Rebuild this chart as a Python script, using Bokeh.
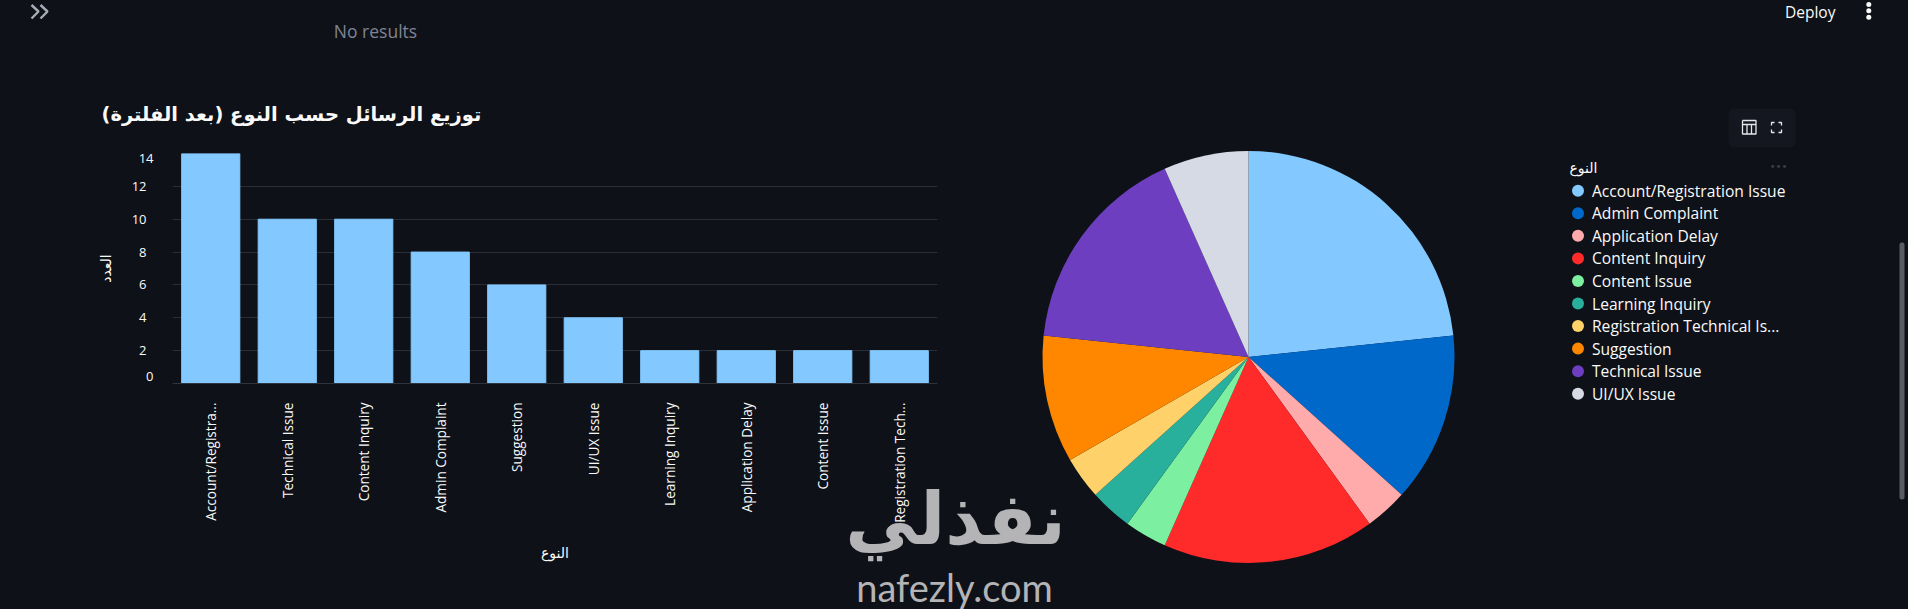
from math import pi
from bokeh.embed import file_html
from bokeh.resources import INLINE
from bokeh.models import (BoxAnnotation, ColumnDataSource, FactorRange, FixedTicker, Label, Range1d)
from bokeh.plotting import figure
from bokeh.core.properties import value

BG = "#0E1117"
GRID = "#2A2E37"
INK = "#FAFAFA"
BAR_BLUE = "#83C9FF"

bar_labels = ["Account/Registra...", "Technical Issue", "Content Inquiry", "Admin Complaint", "Suggestion",
              "UI/UX Issue", "Learning Inquiry", "Application Delay", "Content Issue", "Registration Tech..."]
bar_values = [14, 10, 10, 8, 6, 4, 2, 2, 2, 2]
y_ticks = [0, 2, 4, 6, 8, 10, 12, 14]

pie_labels = ["Account/Registration Issue", "Admin Complaint", "Application Delay", "Content Inquiry", "Content Issue",
              "Learning Inquiry", "Registration Technical Is...", "Suggestion", "Technical Issue", "UI/UX Issue"]
pie_values = [14, 8, 2, 10, 2, 2, 2, 6, 10, 4]
pie_colors = ["#83C9FF", "#0068C9", "#FFABAB", "#FF2B2B", "#7DEFA1", "#29B09D", "#FFD16A", "#FF8700", "#6D3FC0", "#D5DAE5"]

title_text = "توزيع الرسائل حسب النوع (بعد الفلترة)"
x_title = "النوع"
y_title = "العدد"

# ---------- page figure: pie, legend and the page texts; one data unit is one pixel ----------
q = figure(width=1908, height=609, x_range=Range1d(0, 1908), y_range=Range1d(609, 0),
           output_backend="svg", toolbar_location=None, min_border=0,
           background_fill_color=BG, border_fill_color=BG, outline_line_color=None)
q.axis.visible = False
q.grid.visible = False
q.styles = {"position": "absolute", "left": "0px", "top": "0px"}


def page_label(x, y, text, size, color=INK, font="Open Sans", style="normal", align="left"):
    q.add_layout(Label(x=x, y=y, text=text, text_color=color, text_font=font, text_font_style=style,
                       text_font_size=f"{size}px", text_align=align, text_baseline="middle"))


total = sum(pie_values)
starts, ends, acc = [], [], 0
for v in pie_values:
    starts.append(pi / 2 - acc / total * 2 * pi)
    acc += v
    ends.append(pi / 2 - acc / total * 2 * pi)
pie_src = ColumnDataSource(dict(start=starts, end=ends, color=pie_colors, label=pie_labels))
q.wedge(x=1248, y=356.5, radius=206, start_angle="start", end_angle="end", direction="clock",
        fill_color="color", line_color=None, source=pie_src)

rows = list(range(len(pie_labels)))
leg_src = ColumnDataSource(dict(x=[1577.5] * len(rows), tx=[1591.5] * len(rows),
                                y=[190.2 + 22.56 * i for i in rows], label=pie_labels, color=pie_colors))
q.scatter(x="x", y="y", size=12, fill_color="color", line_color=None, source=leg_src)
q.text(x="tx", y="y", text="label", text_color=INK, text_font=value("Open Sans"), text_font_size="15.6px",
       text_baseline="middle", source=leg_src)

# end labels of the value axis sit inside the plot height, so they are set apart from the axis
page_label(153, 157.5, str(y_ticks[-1]), 13, align="right")
page_label(153, 376, str(y_ticks[0]), 13, align="right")

page_label(375, 30, "No results", 17.5, color="#808495", align="center")

page_label(955, 518, "نفذلي", 72, color="#B4B4B6", font="DejaVu Sans", style="bold", align="center")
page_label(954, 586, "nafezly.com", 38, color="#B4B4B6", font="Lato", align="center")

page_label(1569, 167, x_title, 14, font="DejaVu Sans")
page_label(1778, 166, "•••", 10, color="#3A3D46", font="DejaVu Sans", align="center")
page_label(1784.5, 11.5, "Deploy", 15.5)

# sidebar chevrons and the page menu dots
q.multi_line(xs=[[31, 38, 31], [40, 47, 40]], ys=[[4.5, 11, 18], [4.5, 11, 18]], line_color="#A8ABB5", line_width=2.4)
q.scatter(x=[1868.3, 1868.3, 1868.3], y=[4, 10.3, 16.7], size=5, fill_color=INK, line_color=None)

q.add_layout(BoxAnnotation(left=1728, right=1795, top=108, bottom=147, fill_color="#14171F", fill_alpha=1,
                           line_color=None, border_radius=6, level="underlay"))
q.add_layout(BoxAnnotation(left=1899, right=1904, top=242, bottom=499, fill_color="#5A5C63", fill_alpha=1,
                           line_color=None, border_radius=2))

# table and fullscreen icons of the chart toolbar
q.multi_line(xs=[[1742, 1755.5, 1755.5, 1742, 1742], [1742, 1755.5], [1746.5, 1746.5], [1751, 1751]],
             ys=[[120, 120, 133.5, 133.5, 120], [124, 124], [124, 133.5], [124, 133.5]],
             line_color="#E6E7EA", line_width=1.3)
q.multi_line(xs=[[1771, 1771, 1774], [1778, 1781, 1781], [1781, 1781, 1778], [1774, 1771, 1771]],
             ys=[[125, 122, 122], [122, 122, 125], [129, 132, 132], [132, 132, 129]],
             line_color="#E6E7EA", line_width=1.3)

# ---------- bar chart, laid over the page figure ----------
BAR_W = 1000
p = figure(width=BAR_W, height=609, x_range=FactorRange(factors=bar_labels, range_padding=0),
           y_range=Range1d(0, 14), output_backend="svg", toolbar_location=None,
           frame_width=765, frame_height=230, min_border_left=173, min_border_right=BAR_W - 938,
           min_border_top=154, min_border_bottom=225,
           background_fill_alpha=0, border_fill_alpha=0, outline_line_color=None)
p.styles = {"position": "absolute", "left": "-1px", "top": "-1px"}

p.vbar(x=bar_labels, top=bar_values, width=0.76, color=BAR_BLUE)

p.title.text = title_text
p.title.text_color = INK
p.title.text_font = "DejaVu Sans"
p.title.text_font_style = "bold"
p.title.text_font_size = "19.5px"
p.title.align = "left"
p.title.offset = -71
p.title.standoff = 56

p.xgrid.visible = False
p.ygrid.ticker = FixedTicker(ticks=y_ticks)
p.ygrid.grid_line_color = GRID
p.ygrid.grid_line_width = 1

xa = p.xaxis[0]
xa.axis_line_color = "#2E333C"
xa.major_tick_line_color = None
xa.minor_tick_line_color = None
xa.major_label_orientation = pi / 2
xa.major_label_text_color = INK
xa.major_label_text_font = "Open Sans"
xa.major_label_text_font_size = "13.6px"
xa.major_label_standoff = 13
xa.axis_label = x_title
xa.axis_label_text_color = INK
xa.axis_label_text_font = "DejaVu Sans"
xa.axis_label_text_font_style = "normal"
xa.axis_label_text_font_size = "14px"
xa.axis_label_standoff = 19

ya = p.yaxis[0]
ya.ticker = FixedTicker(ticks=y_ticks)
ya.axis_line_color = None
ya.major_tick_line_color = None
ya.minor_tick_line_color = None
ya.major_label_overrides = {0: "", 14: ""}
ya.major_label_text_color = INK
ya.major_label_text_font = "Open Sans"
ya.major_label_text_font_size = "13px"
ya.major_label_standoff = 20
ya.axis_label = y_title
ya.axis_label_text_color = INK
ya.axis_label_text_font = "DejaVu Sans"
ya.axis_label_text_font_style = "normal"
ya.axis_label_text_font_size = "14px"
ya.axis_label_standoff = 15

html = file_html([q, p], INLINE)
html = html.replace("</head>", f"<style>html,body{{margin:0;padding:0;background:{BG};overflow:hidden}}</style></head>", 1)
open("out.html", "w").write(html)
